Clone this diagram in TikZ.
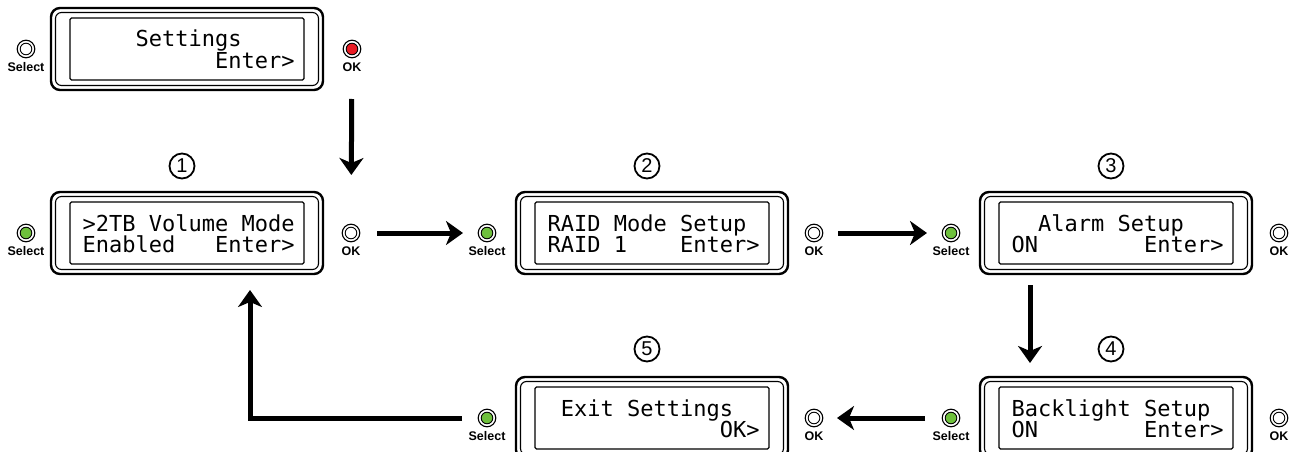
\documentclass[tikz,border=0pt]{standalone}
\usepackage{fontspec}
\setmainfont{Liberation Sans}
\newfontfamily\lcdfont{DejaVu Sans Mono}[WordSpace={1,0,0}]
\usetikzlibrary{arrows.meta,calc}
\definecolor{ledgreen}{RGB}{110,192,60}
\definecolor{ledred}{RGB}{232,28,36}
\begin{document}
\begin{tikzpicture}[x=1pt,y=-1pt,
  outerbox/.style={draw, line width=2.4pt, rounded corners=9pt, minimum width=272pt, minimum height=82pt, inner sep=0pt, outer sep=0pt},
  innerline/.style={line width=1.1pt, rounded corners=6pt},
  display/.style={line width=1.2pt, rounded corners=1.5pt},
  lcdtext/.style={anchor=base west, inner sep=0pt, font=\lcdfont\fontsize{22}{22}\selectfont},
  led/.style={circle, draw, line width=1.1pt, minimum size=17.6pt, inner sep=0pt,
    path picture={\filldraw[fill=#1, line width=0.9pt] (path picture bounding box.center) circle (5.8pt);}},
  btnlabel/.style={inner sep=0pt, font=\bfseries\fontsize{12.5}{13}\selectfont},
  stepnum/.style={circle, draw, line width=1.8pt, minimum size=25pt, inner sep=0pt, font=\fontsize{20}{20}\selectfont},
  arr/.style={line width=5pt, -{Stealth[length=17pt, width=24pt, inset=5pt]}}
]
\useasboundingbox (0,0) rectangle (1298,452);
\clip (0,0) rectangle (1298,452);

% boxes
\foreach \n/\cx/\cy in {b0/187/49, b1/187/233, b2/652/233, b3/1116/233, b4/1116/418, b5/652/418}{
  \node[outerbox] (\n) at (\cx,\cy) {};
  \draw[innerline] ($(\n.north west)+(4.5,4.5)$) rectangle ($(\n.south east)+(-4.5,-4.5)$);
  \draw[display] ($(\n.north west)+(19,10)$) rectangle ($(\n.south east)+(-19,-10)$);
}

% LCD texts
\node[lcdtext] (t0a) at ($(b0.center)+(-104.5,-2)$) {~~~~Settings};
\node[lcdtext] (t0b) at ($(b0.center)+(-104.5,19)$) {~~~~~~~~~~Enter>};
\node[lcdtext] (t1a) at ($(b1.center)+(-104.5,-2)$) {>2TB Volume Mode};
\node[lcdtext] (t1b) at ($(b1.center)+(-104.5,19)$) {Enabled~~~Enter>};
\node[lcdtext] (t2a) at ($(b2.center)+(-104.5,-2)$) {RAID Mode Setup};
\node[lcdtext] (t2b) at ($(b2.center)+(-104.5,19)$) {RAID 1~~~~Enter>};
\node[lcdtext] (t3a) at ($(b3.center)+(-104.5,-2)$) {~~Alarm Setup};
\node[lcdtext] (t3b) at ($(b3.center)+(-104.5,19)$) {ON~~~~~~~~Enter>};
\node[lcdtext] (t4a) at ($(b4.center)+(-104.5,-2)$) {Backlight Setup};
\node[lcdtext] (t4b) at ($(b4.center)+(-104.5,19)$) {ON~~~~~~~~Enter>};
\node[lcdtext] (t5a) at ($(b5.center)+(-104.5,-2)$) {~Exit Settings};
\node[lcdtext] (t5b) at ($(b5.center)+(-104.5,19)$) {~~~~~~~~~~~~~OK>};

% buttons
\foreach \n/\b/\col/\dx in {s0/b0/white/-161, k0/b0/ledred/165,
  s1/b1/ledgreen/-161, k1/b1/white/164,
  s2/b2/ledgreen/-165, k2/b2/white/162,
  s3/b3/ledgreen/-165, k3/b3/white/163,
  s4/b4/ledgreen/-165, k4/b4/white/163,
  s5/b5/ledgreen/-165, k5/b5/white/162}{
  \node[led=\col] (\n) at ($(\b.center)+(\dx,0)$) {};
}
\foreach \n in {s0,s1,s2,s3,s4,s5}{\node[btnlabel] (\n l) at ($(\n)+(0,18.5)$) {Select};}
\foreach \n in {k0,k1,k2,k3,k4,k5}{\node[btnlabel] (\n l) at ($(\n)+(0,18.5)$) {OK};}

% step numbers
\node[stepnum] (n1) at ($(b1.north)+(-5,-26)$) {1};
\node[stepnum] (n2) at ($(b2.north)+(-5,-26)$) {2};
\node[stepnum] (n3) at ($(b3.north)+(-5,-26)$) {3};
\node[stepnum] (n4) at ($(b4.north)+(-5,-28)$) {4};
\node[stepnum] (n5) at ($(b5.north)+(-5,-28)$) {5};

% arrows
\draw[arr, shorten <=50pt, shorten >=58pt] (k0.center) -- (k1.center);
\draw[arr, shorten <=26pt, shorten >=24pt] (k1.center) -- (s2.center);
\draw[arr, shorten <=24pt, shorten >=24pt] (k2.center) -- (s3.center);
\draw[arr, shorten <=11pt, shorten >=14pt] ($(b3.south west)+(50,0)$) -- ($(b4.north west)+(50,0)$);
\draw[arr, shorten <=26pt, shorten >=23pt] (s4.center) -- (k5.center);
\coordinate (f1) at ($(b1.south west)+(199,16)$);
\draw[arr] ($(s5.center)+(-25,0)$) -| (f1);
\end{tikzpicture}
\end{document}
